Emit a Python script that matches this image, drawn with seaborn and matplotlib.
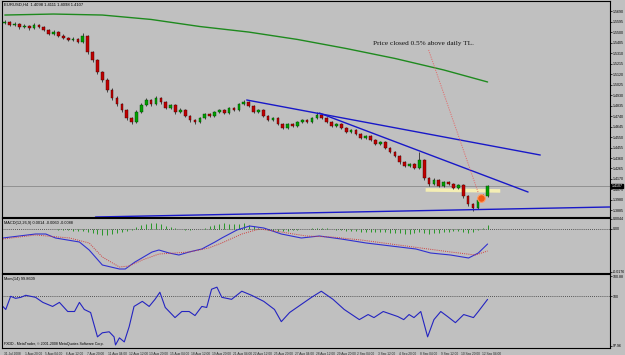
import matplotlib
matplotlib.use("Agg")
import matplotlib.pyplot as plt
import matplotlib.transforms as mtransforms
import numpy as np
import pandas as pd
import seaborn as sns

# EURUSD H4, 31 Jul 2008 - 12 Sep 2008
first_open = 1.5582
close = [1.5591, 1.5564, 1.5573, 1.5546, 1.5555, 1.5537, 1.5564, 1.5546, 1.5519, 1.5482,
         1.5500, 1.5464, 1.5446, 1.5428, 1.5437, 1.5410, 1.5464, 1.5319, 1.5247, 1.5138,
         1.5066, 1.4976, 1.4903, 1.4849, 1.4795, 1.4722, 1.4686, 1.4776, 1.4840, 1.4885,
         1.4849, 1.4903, 1.4867, 1.4813, 1.4840, 1.4776, 1.4795, 1.4740, 1.4704, 1.4686,
         1.4722, 1.4758, 1.4740, 1.4776, 1.4795, 1.4767, 1.4813, 1.4795, 1.4849, 1.4867,
         1.4831, 1.4776, 1.4795, 1.4740, 1.4704, 1.4722, 1.4668, 1.4632, 1.4668, 1.4650,
         1.4686, 1.4704, 1.4686, 1.4722, 1.4749, 1.4722, 1.4686, 1.4650, 1.4668, 1.4632,
         1.4595, 1.4614, 1.4577, 1.4541, 1.4559, 1.4523, 1.4487, 1.4505, 1.4451, 1.4414,
         1.4378, 1.4324, 1.4288, 1.4306, 1.4270, 1.4342, 1.4179, 1.4125, 1.4161, 1.4107,
         1.4143, 1.4125, 1.4089, 1.4116, 1.4016, 1.3944, 1.3908, 1.3980, 1.4016, 1.4107]
high = [1.5612, 1.5603, 1.5590, 1.5585, 1.5571, 1.5568, 1.5578, 1.5575, 1.5556, 1.5530,
        1.5515, 1.5512, 1.5478, 1.5458, 1.5452, 1.5449, 1.5491, 1.5470, 1.5330, 1.5258,
        1.5150, 1.5080, 1.4990, 1.4918, 1.4862, 1.4808, 1.4735, 1.4790, 1.4856, 1.4900,
        1.4897, 1.4918, 1.4915, 1.4878, 1.4852, 1.4850, 1.4810, 1.4806, 1.4752, 1.4716,
        1.4735, 1.4770, 1.4768, 1.4788, 1.4808, 1.4805, 1.4825, 1.4822, 1.4860, 1.4885,
        1.4876, 1.4840, 1.4806, 1.4803, 1.4750, 1.4734, 1.4730, 1.4678, 1.4680, 1.4676,
        1.4698, 1.4716, 1.4713, 1.4735, 1.4776, 1.4758, 1.4730, 1.4695, 1.4680, 1.4676,
        1.4640, 1.4626, 1.4622, 1.4586, 1.4571, 1.4566, 1.4531, 1.4517, 1.4512, 1.4460,
        1.4424, 1.4388, 1.4335, 1.4318, 1.4315, 1.4414, 1.4350, 1.4188, 1.4175, 1.4170,
        1.4156, 1.4152, 1.4134, 1.4128, 1.4122, 1.4025, 1.3952, 1.3992, 1.4030, 1.4115]
low = [1.5570, 1.5551, 1.5552, 1.5532, 1.5533, 1.5520, 1.5528, 1.5534, 1.5505, 1.5470,
       1.5471, 1.5452, 1.5433, 1.5415, 1.5418, 1.5398, 1.5402, 1.5305, 1.5230, 1.5120,
       1.5048, 1.4960, 1.4888, 1.4832, 1.4780, 1.4705, 1.4668, 1.4675, 1.4765, 1.4828,
       1.4835, 1.4838, 1.4852, 1.4800, 1.4802, 1.4762, 1.4765, 1.4728, 1.4690, 1.4672,
       1.4675, 1.4712, 1.4728, 1.4730, 1.4765, 1.4755, 1.4758, 1.4783, 1.4786, 1.4838,
       1.4820, 1.4765, 1.4766, 1.4728, 1.4692, 1.4695, 1.4655, 1.4620, 1.4622, 1.4638,
       1.4641, 1.4676, 1.4675, 1.4678, 1.4713, 1.4710, 1.4673, 1.4638, 1.4641, 1.4620,
       1.4583, 1.4586, 1.4565, 1.4528, 1.4532, 1.4510, 1.4475, 1.4478, 1.4440, 1.4402,
       1.4365, 1.4310, 1.4276, 1.4280, 1.4258, 1.4262, 1.4165, 1.4110, 1.4116, 1.4095,
       1.4098, 1.4112, 1.4076, 1.4080, 1.4002, 1.3930, 1.3881, 1.3898, 1.3970, 1.4008]

# slow moving average (green)
ma_pos = [0, 10, 20, 30, 40, 50, 60, 70, 80, 90, 99]
ma_val = [1.5654, 1.5663, 1.5654, 1.5614, 1.5550, 1.5500, 1.5433, 1.5351, 1.5261, 1.5157, 1.5048]

# trend lines: (bar, price) -> (bar, price)
tl_upper = [(49.6, 1.4885), (109.8, 1.4387)]
tl_lower = [(64.5, 1.4767), (107.3, 1.4052)]
tl_base = [(18.6, 1.3826), (124.5, 1.3917)]
level_line = [(86.3, 1.4071), (101.6, 1.4062)]
arrow_line = [(86.9, 1.5338), (97.1, 1.4044)]
note_pos = (85.9, 1.5392)
note_text = "Price closed 0.5% above daily TL."
signal_bar = (97.6, 1.3998)

# MACD(12,26,9)
macd_hist = [1, -1, 1, 0, -1, 1, 0, -1, 1, 0,
             -2, -4, -5, -6, -7, -8, -8, -12, -18, -22,
             -24, -24, -22, -18, -14, -10, -6, 6, 14, 20,
             24, 22, 18, 10, 6, 2, -2, -4, -4, -2,
             0, 4, 10, 16, 20, 22, 20, 18, 20, 22,
             16, 10, 4, -2, -6, -8, -10, -10, -8, -6,
             -4, -2, 0, 2, 4, 4, 2, -2, -4, -6,
             -8, -8, -10, -12, -12, -12, -14, -14, -14, -16,
             -18, -18, -20, -20, -18, -14, -18, -20, -18, -16,
             -14, -12, -10, -8, -12, -16, -14, -6, 2, 14]
macd_pos = [-0.4, 6.3, 8.4, 10.4, 15.3, 17.3, 20.0, 23.5, 24.7, 26.7, 30.2, 31.6, 33.7, 35.7,
            37.8, 40.4, 43.1, 44.5, 47.6, 50.2, 53.1, 56.7, 60.8, 64.5, 69.0, 74.1, 79.2,
            84.3, 87.3, 91.4, 95.1, 97.1, 99.0]
macd_main = [-36, -20, -20, -36, -52, -84, -144, -160, -160, -132, -92, -84, -96, -104,
             -92, -80, -52, -36, -4, 12, 4, -20, -36, -28, -40, -56, -68,
             -80, -96, -104, -116, -96, -60]
sig_pos = [-0.4, 6.3, 13.3, 17.3, 20.0, 23.5, 25.5, 28.2, 31.6, 34.9, 37.8, 41.8, 44.5,
           48.6, 52.2, 56.7, 61.8, 67.0, 73.1, 79.2, 85.3, 91.4, 96.5, 99.0]
macd_signal = [-40, -24, -36, -56, -112, -152, -148, -124, -100, -96, -92, -76, -56,
               -20, 0, -12, -28, -32, -44, -60, -76, -92, -104, -88]

# Momentum(14)
mom_pos = [-0.4, 0.2, 1.2, 2.2, 3.3, 4.3, 5.3, 6.3, 7.8, 9.8, 11.2, 12.9, 14.3, 15.3, 16.3,
           17.6, 19.0, 20.0, 21.4, 22.4, 22.7, 23.5, 24.5, 25.5, 26.5, 28.2, 29.6, 30.8,
           31.8, 32.9, 34.9, 36.3, 37.8, 39.0, 40.4, 41.4, 42.4, 43.5, 44.5, 46.5, 48.6,
           50.6, 53.1, 55.3, 56.7, 58.4, 60.8, 62.9, 64.9, 67.3, 69.6, 72.7, 74.5, 75.7,
           77.6, 80.6, 81.8, 82.9, 83.9, 85.3, 86.7, 88.0, 89.4, 90.8, 92.4, 94.1, 96.1,
           97.1, 99.0]
mom_val = [99.60, 99.48, 100.00, 99.92, 99.96, 100.04, 100.00, 99.96, 99.76, 99.60, 99.76,
           99.40, 99.40, 99.76, 99.48, 99.36, 98.40, 98.56, 98.60, 98.40, 98.08, 98.36,
           98.20, 98.80, 99.60, 99.80, 99.60, 99.88, 100.16, 99.56, 99.16, 99.40, 99.40,
           99.24, 99.60, 99.56, 100.28, 100.36, 99.96, 99.88, 100.20, 100.04, 99.80, 99.48,
           99.00, 99.36, 99.68, 99.96, 100.20, 99.88, 99.48, 99.08, 99.28, 99.16, 99.40,
           99.20, 99.08, 99.28, 99.16, 99.40, 98.40, 99.08, 99.40, 99.20, 98.96, 99.28,
           99.16, 99.40, 99.88]

time_labels = ["31 Jul 2008", "1 Aug 20:00", "5 Aug 04:00", "6 Aug 12:00", "7 Aug 20:00",
               "11 Aug 04:00", "12 Aug 12:00", "13 Aug 20:00", "15 Aug 04:00", "18 Aug 12:00",
               "19 Aug 20:00", "21 Aug 04:00", "22 Aug 12:00", "25 Aug 20:00", "27 Aug 04:00",
               "28 Aug 12:00", "29 Aug 20:00", "2 Sep 04:00", "3 Sep 12:00", "4 Sep 20:00",
               "8 Sep 04:00", "9 Sep 12:00", "10 Sep 20:00", "12 Sep 04:00"]

bg = "#c0c0c0"
sns.set_style("white", {"axes.facecolor": bg, "figure.facecolor": bg})
plt.rcParams["font.family"] = ["DejaVu Sans"]
small = ["Liberation Sans Narrow", "Liberation Sans"]

n = len(close)
idx = np.arange(n)
opn = np.array([first_open] + close[:-1])
cls = np.array(close)
df = pd.DataFrame({"bar": idx, "open": opn, "close": cls, "high": high, "low": low})

fig = plt.figure(figsize=(6.25, 3.55), dpi=100)
left, width = 0.003, 610 / 625 - 0.003
ax1 = fig.add_axes([left, 1 - 217 / 355, width, 216 / 355])
ax2 = fig.add_axes([left, 1 - 273 / 355, width, 55 / 355], sharex=ax1)
ax3 = fig.add_axes([left, 1 - 348 / 355, width, 74 / 355], sharex=ax1)

for ax in (ax1, ax2, ax3):
    ax.set_facecolor(bg)
    for s in ax.spines.values():
        s.set_color("black")
        s.set_linewidth(0.8)
    ax.yaxis.tick_right()
    ax.tick_params(axis="y", labelsize=2.6, length=1.5, width=0.5, pad=0.5, colors="black")
    ax.tick_params(axis="x", labelsize=2.3, length=2, width=0.5, pad=0.8)

# price panel
ax1.axhline(close[-1], color="#8a8a8a", lw=0.6, zorder=1)
sns.lineplot(x=ma_pos, y=ma_val, ax=ax1, color="#1e8a1e", lw=1.0, estimator=None)
ax1.plot(*zip(*level_line), color="#f4eeb4", lw=2.6, solid_capstyle="butt", zorder=2)

up = df[df.close >= df.open]
dn = df[df.close < df.open]
ax1.vlines(df.bar, df.low, df.high, color="#101010", lw=0.5, zorder=3)
ax1.bar(up.bar, (up.close - up.open).clip(lower=0.0002), bottom=up.open, width=0.55,
        color="#00a000", edgecolor="#004000", lw=0.3, zorder=4)
ax1.bar(dn.bar, (dn.open - dn.close), bottom=dn.close, width=0.55,
        color="#c00000", edgecolor="#400000", lw=0.3, zorder=4)

for tl in (tl_upper, tl_lower, tl_base):
    ax1.plot(*zip(*tl), color="#1818c8", lw=1.0, zorder=5)
ax1.plot(*zip(*arrow_line), color="#e07070", lw=0.7, ls=(0, (1.2, 1.2)), zorder=5)
ax1.plot(*signal_bar, "o", ms=5.5, mfc="#f05a14", mec="#ff9a60", mew=0.8, zorder=6)
ax1.text(*note_pos, note_text, ha="center", va="center", fontsize=5.2,
         family=["Liberation Serif", "DejaVu Serif"], color="#101010", zorder=6)

price_ticks = [1.3885 + 0.0095 * k for k in range(20)]
ax1.set_yticks(price_ticks)
ax1.set_yticklabels([f"{t:.4f}" for t in price_ticks], family=small)
ax1.set_ylim(1.3826, 1.5781)
ax1.text(0.004, 0.992, "EURUSD,H4  1.4098 1.4111 1.4098 1.4107", transform=ax1.transAxes,
         fontsize=3.0, va="top", ha="left", color="black", family=small)
trans1 = mtransforms.blended_transform_factory(ax1.transAxes, ax1.transData)
ax1.text(1.003, close[-1], f"{close[-1]:.4f}", transform=trans1, fontsize=2.6, color="white",
         va="center", ha="left", family=small,
         bbox=dict(boxstyle="square,pad=0.1", fc="black", ec="black"))

# MACD panel
ax2.axhline(0, color="#303030", lw=0.6, ls=(0, (1, 1.5)), zorder=1)
ax2.vlines(idx, 0, np.array(macd_hist) * 0.0001, color="#109010", lw=0.6, zorder=2)
sns.lineplot(x=macd_pos, y=np.array(macd_main) * 0.0001, ax=ax2, color="#3030d0", lw=0.8,
             estimator=None)
sns.lineplot(x=sig_pos, y=np.array(macd_signal) * 0.0001, ax=ax2, color="#d04040", lw=0.7,
             estimator=None, linestyle=(0, (1, 1.2)))
ax2.set_ylim(-0.0176, 0.0044)
ax2.set_yticks([0.0040, 0.0, -0.0170])
ax2.set_yticklabels(["0.0044", "0.00", "-0.0176"], family=small)
ax2.text(0.004, 0.95, "MACD(12,26,9) 0.0014 -0.0060 -0.0088", transform=ax2.transAxes,
         fontsize=2.8, va="top", ha="left", color="black", family=small)

# Momentum panel
ax3.axhline(100, color="#303030", lw=0.6, ls=(0, (1, 1.5)), zorder=1)
sns.lineplot(x=mom_pos, y=mom_val, ax=ax3, color="#2424c0", lw=0.8, estimator=None, sort=False)
ax3.set_ylim(97.96, 100.88)
ax3.set_yticks([100.80, 100.0, 98.04])
ax3.set_yticklabels(["100.88", "100", "97.96"], family=small)
ax3.text(0.004, 0.96, "Mom(14) 99.8609", transform=ax3.transAxes,
         fontsize=2.8, va="top", ha="left", color="black", family=small)
ax3.text(0.004, 0.03, "FXDD - MetaTrader, \u00a9 2001-2008 MetaQuotes Software Corp.",
         transform=ax3.transAxes, fontsize=2.6, va="bottom", ha="left", color="black",
         family=small)

tick_pos = [-0.2 + 4.265 * k for k in range(len(time_labels))]
ax3.set_xticks(tick_pos)
ax3.set_xticklabels(time_labels, ha="left", family=small)
ax3.set_xlim(-0.6, 124.1)
ax1.tick_params(axis="x", labelbottom=False, length=0)
ax2.tick_params(axis="x", labelbottom=False, length=0)
for ax in (ax1, ax2, ax3):
    ax.set_xlabel("")
    ax.set_ylabel("")

fig.savefig("out.png", dpi=100, facecolor=bg)
